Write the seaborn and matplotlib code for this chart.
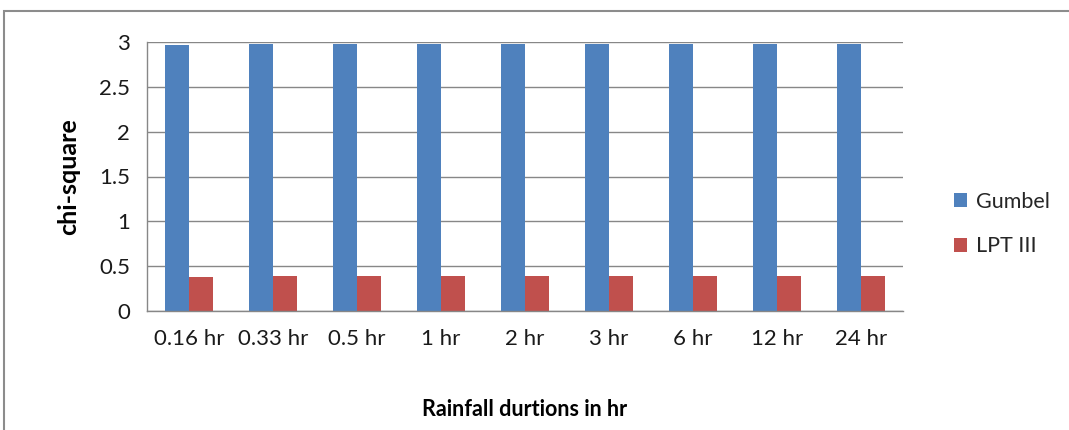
import matplotlib
matplotlib.use("Agg")
import matplotlib.pyplot as plt
from matplotlib.patches import Rectangle
import seaborn as sns
import pandas as pd

durations = ["0.16 hr", "0.33 hr", "0.5 hr", "1 hr", "2 hr", "3 hr", "6 hr", "12 hr", "24 hr"]
gumbel = [2.97, 2.98, 2.98, 2.98, 2.98, 2.98, 2.98, 2.98, 2.98]
lpt3 = [0.38, 0.39, 0.39, 0.39, 0.39, 0.39, 0.39, 0.39, 0.39]
series_names = ["Gumbel", "LPT III"]
colors = ["#4F81BD", "#C0504D"]

df = pd.DataFrame({
    "duration": durations * 2,
    "chi": gumbel + lpt3,
    "method": [series_names[0]] * len(durations) + [series_names[1]] * len(durations),
})

sns.set_style("white")
plt.rcParams["font.family"] = ["Lato", "DejaVu Sans"]

fig = plt.figure(figsize=(10.69, 4.30), dpi=100)
ax = fig.add_axes([147 / 1069, (430 - 311) / 430, (903 - 147) / 1069, (311 - 42) / 430])

sns.barplot(data=df, x="duration", y="chi", hue="method", order=durations,
            hue_order=series_names, palette=colors, width=0.57, gap=0,
            saturation=1, edgecolor="none", legend=False, ax=ax)

ax.set_ylim(0, 3)
ax.set_xlim(-0.5, len(durations) - 0.5)
ax.set_yticks([0, 0.5, 1, 1.5, 2, 2.5, 3])
ax.set_yticklabels(["0", "0.5", "1", "1.5", "2", "2.5", "3"])
ax.yaxis.grid(True, color="#878787", linewidth=1.0)
ax.set_axisbelow(True)

# category ticks sit on the boundaries between groups
ax.set_xticks(range(len(durations)))
ax.set_xticklabels(durations)
ax.set_xticks([i - 0.5 for i in range(len(durations) + 1)], minor=True)
ax.tick_params(axis="x", which="major", length=0, labelsize=16, pad=13, labelcolor="#1a1a1a")
ax.tick_params(axis="x", which="minor", length=8, width=1, color="#878787", direction="out")
ax.tick_params(axis="y", which="major", length=6, width=1, color="#878787",
               direction="out", labelsize=16, pad=6, labelcolor="#1a1a1a")

for side in ["top", "right"]:
    ax.spines[side].set_visible(False)
for side in ["left", "bottom"]:
    ax.spines[side].set_color("#878787")
    ax.spines[side].set_linewidth(1.0)

ax.set_ylabel("chi-square", fontsize=18, fontweight="bold", labelpad=14, color="#000000")
ax.set_xlabel("")
fig.text(525 / 1069, 1 - 410 / 430, "Rainfall durtions in hr", ha="center", va="center",
         fontsize=15.5, fontweight="bold", color="#000000")

handles = [Rectangle((0, 0), 1, 1, facecolor=c, edgecolor="none") for c in colors]
fig.legend(handles, series_names, loc="center left", bbox_to_anchor=(935 / 1069, 1 - 224 / 430),
           frameon=False, fontsize=15.5, handlelength=0.6, handleheight=0.6,
           handletextpad=0.4, labelspacing=1.15)

# outer chart frame
fig.patches.append(Rectangle((4 / 1069, -0.1), 1.2, 1 - 11 / 430 + 0.1,
                             transform=fig.transFigure, fill=False,
                             edgecolor="#8c8c8c", linewidth=1.5))

fig.savefig("out.png", dpi=100)
